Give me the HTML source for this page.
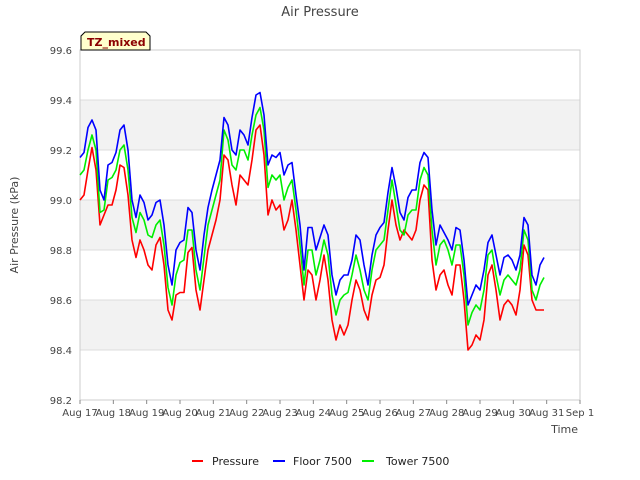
<!DOCTYPE html>
<html><head><meta charset="utf-8"><style>
body{margin:0;background:#fff;}
svg{display:block;font-family:"DejaVu Sans","Liberation Sans",sans-serif;}
</style></head><body>
<svg id="chart" width="640" height="480">
<rect x="0" y="0" width="640" height="480" fill="#fff"/>
<g id="bands"></g>
<g id="grid"></g>
<rect x="80" y="50" width="500" height="350" fill="none" stroke="#ccc"/>
<g id="series"></g>
<g id="yticks"></g>
<g id="xticks"></g>
<text x="320" y="16" text-anchor="middle" font-size="13" fill="#444">Air Pressure</text>
<text x="18" y="225" text-anchor="middle" font-size="11" fill="#444" transform="rotate(-90 18 225)">Air Pressure (kPa)</text>
<text x="578" y="433" text-anchor="end" font-size="11" fill="#444">Time</text>
<g>
<path d="M81,50 L81,36 L85,32 L146,32 L150,36 L150,50 Z" fill="#ffffcc" stroke="#000" stroke-width="1"/>
<text x="87" y="46" font-size="11" font-weight="bold" fill="#8b0000">TZ_mixed</text>
</g>
<g>
<g><line x1="192" y1="461" x2="203" y2="461" stroke="#f00" stroke-width="2"/><text x="212" y="465" font-size="11" fill="#222">Pressure</text></g>
<g><line x1="273" y1="461" x2="285" y2="461" stroke="#00f" stroke-width="2"/><text x="293" y="465" font-size="11" fill="#222">Floor 7500</text></g>
<g><line x1="362" y1="461" x2="374" y2="461" stroke="#0e0" stroke-width="2"/><text x="386" y="465" font-size="11" fill="#222">Tower 7500</text></g>
</g>
</svg>
<script>
const xTickLabels=["Aug 17","Aug 18","Aug 19","Aug 20","Aug 21","Aug 22","Aug 23","Aug 24","Aug 25","Aug 26","Aug 27","Aug 28","Aug 29","Aug 30","Aug 31","Sep 1"];
const yTicks=[98.2,98.4,98.6,98.8,99.0,99.2,99.4,99.6];
const startDay=0, dayStep=0.12;
const pressure=[99.0,99.02,99.12,99.21,99.12,98.9,98.94,98.98,98.98,99.04,
99.14,99.13,99.02,98.84,98.77,98.84,98.80,98.74,98.72,98.82,
98.85,98.74,98.56,98.52,98.62,98.63,98.63,98.79,98.81,98.64,
98.56,98.68,98.80,98.86,98.92,99.0,99.18,99.16,99.06,98.98,
99.10,99.08,99.06,99.16,99.28,99.30,99.18,98.94,99.0,98.96,
98.98,98.88,98.92,99.0,98.88,98.74,98.60,98.72,98.70,98.60,
98.68,98.78,98.68,98.52,98.44,98.50,98.46,98.50,98.60,98.68,
98.64,98.56,98.52,98.62,98.68,98.69,98.74,98.88,99.0,98.90,
98.84,98.88,98.86,98.84,98.88,99.0,99.06,99.04,98.76,98.64,
98.70,98.72,98.66,98.62,98.74,98.74,98.60,98.40,98.42,98.46,
98.44,98.52,98.70,98.74,98.64,98.52,98.58,98.60,98.58,98.54,
98.64,98.82,98.78,98.60,98.56,98.56,98.56];
const floor7500=[99.17,99.19,99.29,99.32,99.28,99.04,99.0,99.14,99.15,99.19,
99.28,99.30,99.20,99.00,98.93,99.02,98.99,98.92,98.94,98.99,
99.0,98.90,98.74,98.66,98.80,98.83,98.84,98.97,98.95,98.80,
98.72,98.86,98.97,99.04,99.10,99.16,99.33,99.30,99.20,99.18,
99.28,99.26,99.22,99.33,99.42,99.43,99.34,99.14,99.18,99.17,
99.19,99.10,99.14,99.15,99.02,98.90,98.72,98.89,98.89,98.80,
98.85,98.90,98.86,98.70,98.62,98.68,98.70,98.70,98.76,98.86,
98.84,98.74,98.66,98.78,98.86,98.89,98.91,99.03,99.13,99.05,
98.95,98.92,99.01,99.04,99.04,99.15,99.19,99.17,98.96,98.82,
98.90,98.87,98.84,98.80,98.89,98.88,98.76,98.58,98.62,98.66,
98.64,98.72,98.83,98.86,98.78,98.70,98.77,98.78,98.76,98.72,
98.78,98.93,98.90,98.70,98.66,98.74,98.77];
const tower7500=[99.10,99.12,99.20,99.26,99.20,98.95,98.96,99.08,99.09,99.12,
99.20,99.22,99.12,98.93,98.87,98.95,98.92,98.86,98.85,98.90,
98.92,98.82,98.65,98.58,98.70,98.75,98.76,98.88,98.88,98.72,
98.64,98.77,98.90,98.96,99.02,99.08,99.28,99.24,99.14,99.12,
99.20,99.20,99.16,99.26,99.34,99.37,99.28,99.05,99.10,99.08,
99.10,99.00,99.05,99.08,98.96,98.82,98.66,98.80,98.80,98.70,
98.76,98.84,98.78,98.62,98.54,98.60,98.62,98.63,98.70,98.78,
98.72,98.64,98.60,98.72,98.80,98.82,98.84,98.96,99.08,98.98,
98.88,98.86,98.94,98.96,98.96,99.08,99.13,99.10,98.88,98.74,
98.82,98.84,98.80,98.74,98.82,98.82,98.70,98.50,98.55,98.58,
98.56,98.64,98.78,98.80,98.70,98.62,98.68,98.70,98.68,98.66,
98.72,98.88,98.84,98.64,98.60,98.66,98.69];
const NS="http://www.w3.org/2000/svg";
const X0=80,X1=580,Y0=400,Y1=50,DMIN=0,DMAX=15,VMIN=98.2,VMAX=99.6;
function xs(d){return X0+(d-DMIN)/(DMAX-DMIN)*(X1-X0);}
function ys(v){return Y0-(v-VMIN)/(VMAX-VMIN)*(Y0-Y1);}
function mk(tag,attrs,parent){const e=document.createElementNS(NS,tag);for(const k in attrs)e.setAttribute(k,attrs[k]);parent.appendChild(e);return e;}
const bands=document.getElementById('bands'),grid=document.getElementById('grid');
for(let i=0;i<yTicks.length-1;i++){
  if(i%2===1){const r=mk('rect',{x:X0,y:ys(yTicks[i+1]),width:X1-X0,height:ys(yTicks[i])-ys(yTicks[i+1]),fill:'#f2f2f2'},bands);
  
  }
}
const yt=document.getElementById('yticks');
yTicks.forEach(v=>{
  const l=mk('line',{x1:X0,x2:X1,y1:ys(v),y2:ys(v),stroke:'#dcdcdc'},grid);
  
  
  const t=mk('text',{x:X0-8,y:ys(v)+4,'text-anchor':'end','font-size':10,fill:'#444'},yt);
  
  
  t.textContent=v.toFixed(1);
});
const xt=document.getElementById('xticks');
xTickLabels.forEach((s,i)=>{
  const x=xs(i);
  const tk=mk('line',{x1:x,x2:x,y1:Y0,y2:Y0+4,stroke:'#888'},xt);
  
  
  const t=mk('text',{x:x,y:Y0+16,'text-anchor':'middle','font-size':10,fill:'#444'},xt);
  
  
  t.textContent=s;
});
const sg=document.getElementById('series');
function drawLine(vals,color,name){
  const pts=vals.map((v,i)=>xs(startDay+i*dayStep).toFixed(1)+','+ys(v).toFixed(1)).join(' ');
  const p=mk('polyline',{points:pts,fill:'none',stroke:color,'stroke-width':1.6,'stroke-linejoin':'round'},sg);
  
  
}
drawLine(pressure,'#f00','pressure-line');
drawLine(tower7500,'#0e0','tower-7500-line');
drawLine(floor7500,'#00f','floor-7500-line');
</script>
</body></html>
